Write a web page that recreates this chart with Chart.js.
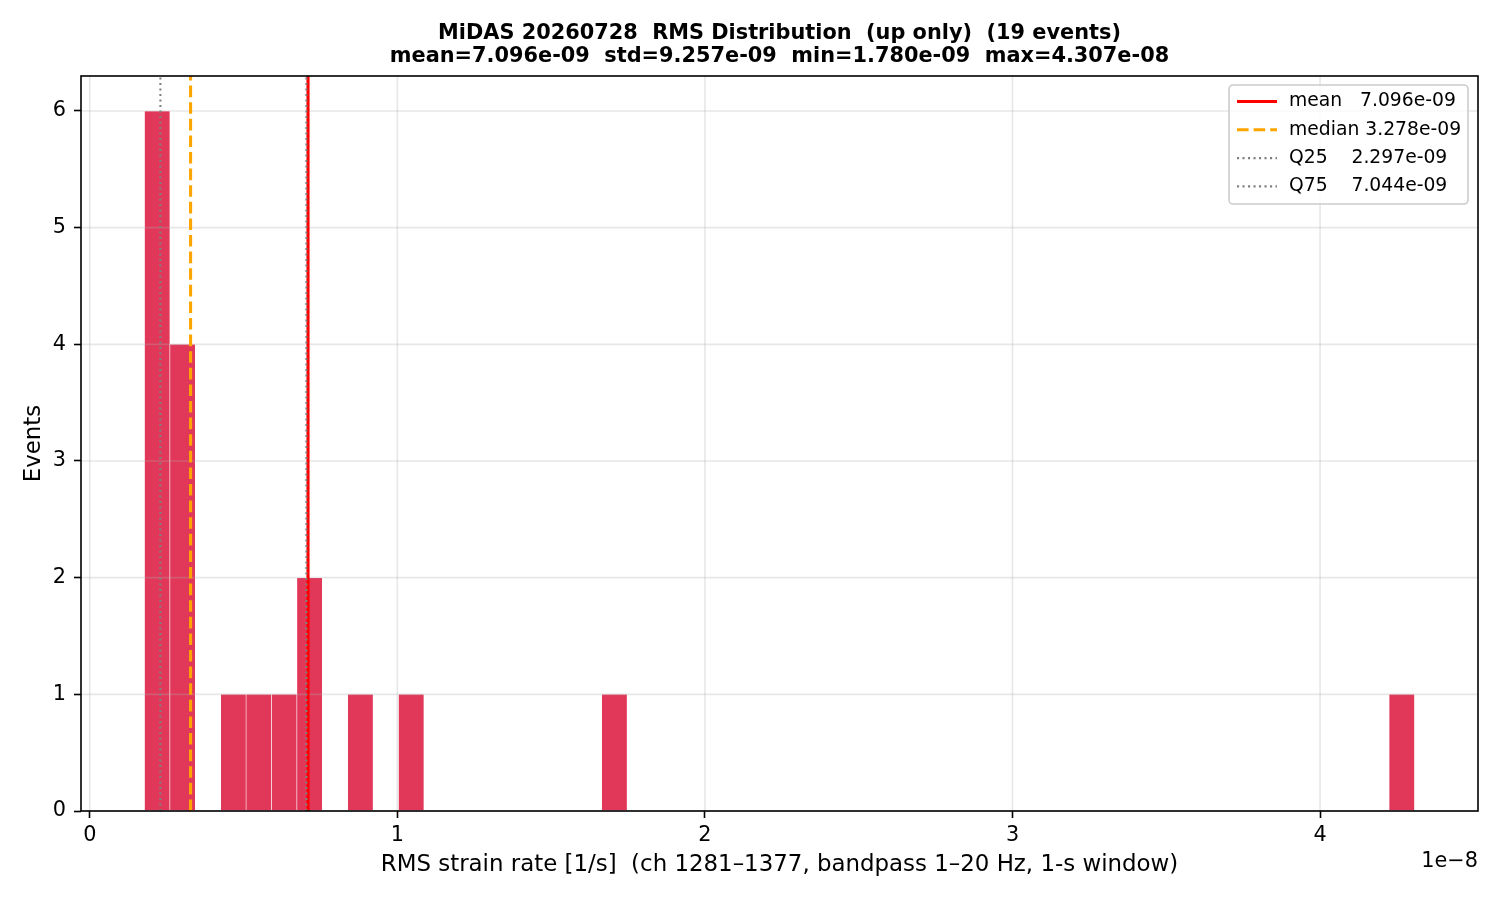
<!DOCTYPE html>
<html>
<head>
<meta charset="utf-8">
<script src="https://cdn.jsdelivr.net/npm/chart.js@4.4.1/dist/chart.umd.min.js"></script>
<style>
  html, body { margin: 0; padding: 0; background: #fff; }
  #wrap { width: 1500px; height: 900px; }
</style>
</head>
<body>
<div id="wrap"><canvas id="c" width="1500" height="900"></canvas></div>
<script>
// ---- data ----
const TITLE_LINES = [
  'MiDAS 20260728  RMS Distribution  (up only)  (19 events)',
  'mean=7.096e-09  std=9.257e-09  min=1.780e-09  max=4.307e-08'
];
const X_LABEL = 'RMS strain rate [1/s]  (ch 1281\u20131377, bandpass 1\u201320 Hz, 1-s window)';
const Y_LABEL = 'Events';
const OFFSET_TEXT = '1e\u22128';

const RMS_MIN = 1.780e-9;
const RMS_MAX = 4.307e-8;
const N_BINS = 50;
const BIN_COUNTS = [
  6, 4, 0, 1, 1, 1, 2, 0, 1, 0,
  1, 0, 0, 0, 0, 0, 0, 0, 1, 0,
  0, 0, 0, 0, 0, 0, 0, 0, 0, 0,
  0, 0, 0, 0, 0, 0, 0, 0, 0, 0,
  0, 0, 0, 0, 0, 0, 0, 0, 0, 1
];

const STAT_NAMES  = ['mean', 'median', 'Q25', 'Q75'];
const STAT_LABELS = ['mean   7.096e-09', 'median 3.278e-09', 'Q25    2.297e-09', 'Q75    7.044e-09'];
const STAT_VALUES = [7.096e-9, 3.278e-9, 2.297e-9, 7.044e-9];

const X_TICKS = [0, 1e-8, 2e-8, 3e-8, 4e-8];
const Y_TICKS = [0, 1, 2, 3, 4, 5, 6];
const X_UNIT = 1e-8;

// ---- derived ----
const binWidth = (RMS_MAX - RMS_MIN) / N_BINS;
const histPoints = BIN_COUNTS.map((c, i) => ({ x: RMS_MIN + (i + 0.5) * binWidth, y: c > 0 ? c : null }));
const xMargin = 0.05 * (RMS_MAX - RMS_MIN);
const X_MIN = RMS_MIN - xMargin, X_MAX = RMS_MAX + xMargin;
const Y_MAX = Math.max(...BIN_COUNTS) * 1.05;

const LINE_STYLES = [
  { color: '#ff0000', width: 3.1, dash: [] },
  { color: '#ffa500', width: 3.1, dash: [11.6, 5.0] },
  { color: '#808080', width: 2.1, dash: [2.1, 3.4] },
  { color: '#808080', width: 2.1, dash: [2.1, 3.4] }
];

const statDatasets = STAT_VALUES.map((v, i) => ({
  type: 'line',
  label: STAT_LABELS[i],
  data: [{ x: v, y: 0 }, { x: v, y: Y_MAX }],
  borderColor: LINE_STYLES[i].color,
  borderWidth: LINE_STYLES[i].width,
  borderDash: LINE_STYLES[i].dash,
  borderCapStyle: 'butt',
  pointRadius: 0,
  fill: false,
  order: 4 - i
}));

const FONT = 'DejaVu Sans';
const TICK_SIZE = 20.8;

// grid drawn right after the histogram (above bars, below lines), frame + legend + offset text at end
const mplPlugin = {
  id: 'mpl',
  afterDatasetDraw(chart, args) {
    if (args.index !== 0) return;
    const { ctx, chartArea: a, scales } = chart;
    ctx.save();
    ctx.strokeStyle = 'rgba(176,176,176,0.3)';
    ctx.lineWidth = 1.6;
    scales.y.ticks.forEach((t, i) => {
      const y = scales.y.getPixelForTick(i);
      ctx.beginPath(); ctx.moveTo(a.left, y); ctx.lineTo(a.right, y); ctx.stroke();
    });
    scales.x.ticks.forEach((t, i) => {
      const x = scales.x.getPixelForTick(i);
      ctx.beginPath(); ctx.moveTo(x, a.top); ctx.lineTo(x, a.bottom); ctx.stroke();
    });
    ctx.restore();
  },
  afterDraw(chart) {
    const { ctx, chartArea: a } = chart;
    ctx.save();
    // frame
    ctx.strokeStyle = '#000';
    ctx.lineWidth = 1.6;
    ctx.strokeRect(a.left, a.top, a.right - a.left, a.bottom - a.top);
    // offset text
    ctx.fillStyle = '#000';
    ctx.font = TICK_SIZE + 'px "' + FONT + '"';
    ctx.textAlign = 'right';
    ctx.textBaseline = 'middle';
    ctx.fillText(OFFSET_TEXT, a.right, 862);
    // legend
    const bx = a.right - 249, by = a.top + 9, bw = 239, bh = 119;
    ctx.beginPath();
    if (ctx.roundRect) ctx.roundRect(bx, by, bw, bh, 4); else ctx.rect(bx, by, bw, bh);
    ctx.fillStyle = 'rgba(255,255,255,0.8)';
    ctx.fill();
    ctx.strokeStyle = '#cccccc';
    ctx.lineWidth = 1.6;
    ctx.stroke();
    ctx.font = '18.75px "' + FONT + '"';
    ctx.textAlign = 'left';
    ctx.textBaseline = 'middle';
    chart.data.datasets.forEach((ds, i) => {
      if (ds.type !== 'line') return;
      const k = STAT_LABELS.indexOf(ds.label);
      const cy = by + 16.5 + k * 28.3;
      ctx.strokeStyle = ds.borderColor;
      ctx.lineWidth = ds.borderWidth;
      ctx.setLineDash(ds.borderDash);
      ctx.beginPath(); ctx.moveTo(bx + 8, cy); ctx.lineTo(bx + 48, cy); ctx.stroke();
      ctx.setLineDash([]);
      ctx.fillStyle = '#000';
      ctx.fillText(ds.label, bx + 60, cy);
    });
    ctx.restore();
  }
};

new Chart(document.getElementById('c'), {
  type: 'bar',
  data: {
    datasets: [
      {
        type: 'bar',
        label: 'hist',
        data: histPoints,
        backgroundColor: 'rgb(225,55,89)',
        borderColor: 'rgba(255,255,255,0.9)',
        borderWidth: 0.6,
        borderSkipped: false,
        categoryPercentage: 1.0,
        barPercentage: 1.0,
        grouped: false,
        order: 10
      },
      ...statDatasets
    ]
  },
  options: {
    responsive: false,
    animation: false,
    devicePixelRatio: 1,
    layout: { padding: { top: 0, right: 22, bottom: 0, left: 0 } },
    plugins: {
      legend: { display: false },
      tooltip: { enabled: false },
      title: {
        display: true,
        text: TITLE_LINES,
        color: '#000',
        fullSize: false,
        font: { family: FONT, size: 20.85, weight: 'bold', lineHeight: 1.103 },
        padding: { top: 22, bottom: 8 }
      }
    },
    scales: {
      x: {
        type: 'linear',
        min: X_MIN,
        max: X_MAX,
        offset: false,
        afterFit(s) { s.height = 89; },
        afterBuildTicks(s) { s.ticks = X_TICKS.map(v => ({ value: v })); },
        border: { display: false },
        grid: { drawOnChartArea: false, drawTicks: true, tickLength: 7, tickColor: '#000', tickWidth: 1.6, offset: false },
        ticks: {
          color: '#000',
          padding: 5,
          maxRotation: 0,
          autoSkip: false,
          font: { family: FONT, size: TICK_SIZE },
          callback: v => String(Math.round(v / X_UNIT))
        },
        title: {
          display: true,
          text: X_LABEL,
          color: '#000',
          font: { family: FONT, size: 22.9 },
          padding: { top: 0, bottom: 21 }
        }
      },
      y: {
        type: 'linear',
        min: 0,
        max: Y_MAX,
        afterFit(s) { s.width = 81; },
        afterBuildTicks(s) { s.ticks = Y_TICKS.map(v => ({ value: v })); },
        border: { display: false },
        grid: { drawOnChartArea: false, drawTicks: true, tickLength: 7, tickColor: '#000', tickWidth: 1.6 },
        ticks: {
          color: '#000',
          padding: 8,
          autoSkip: false,
          font: { family: FONT, size: TICK_SIZE },
          callback: v => String(v)
        },
        title: {
          display: true,
          text: Y_LABEL,
          color: '#000',
          font: { family: FONT, size: 22.9 },
          padding: { top: 20, bottom: 0 }
        }
      }
    }
  },
  plugins: [mplPlugin]
});
</script>
</body>
</html>
